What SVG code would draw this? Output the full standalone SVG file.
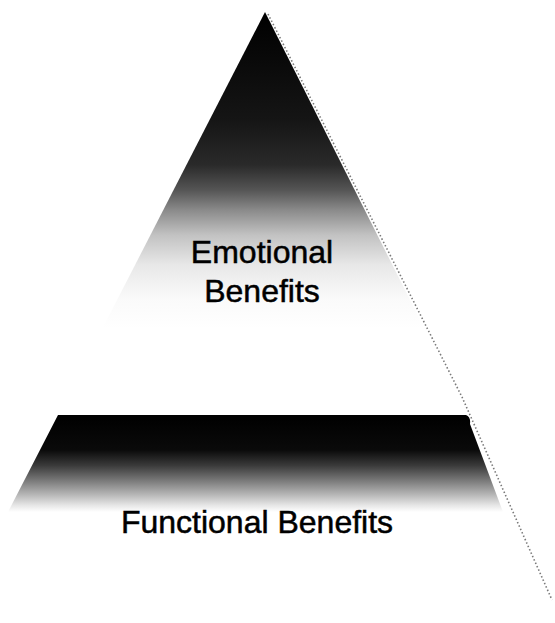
<svg xmlns="http://www.w3.org/2000/svg" width="555" height="623" viewBox="0 0 555 623">
  <style>
    .label { font-family: "Liberation Sans", Arial, sans-serif; font-size: 32px; fill: #000; stroke: #000; stroke-width: 0.5; text-anchor: middle; }
    .edge { fill: none; stroke: #7a7a7a; stroke-width: 1.6; stroke-dasharray: 1.5 2.2; }
  </style>
  <defs>
    <!-- upper tier: dark at the apex, fading out towards the middle -->
    <linearGradient id="tierTop" gradientUnits="userSpaceOnUse" x1="0" y1="12" x2="0" y2="380">
      <stop offset="0" stop-color="#000"/>
      <stop offset="0.293" stop-color="#151515"/>
      <stop offset="0.416" stop-color="#2a2a2a"/>
      <stop offset="0.484" stop-color="#555"/>
      <stop offset="0.538" stop-color="#8a8a8a"/>
      <stop offset="0.606" stop-color="#c2c2c2"/>
      <stop offset="0.688" stop-color="#e8e8e8"/>
      <stop offset="0.78" stop-color="#fafafa"/>
      <stop offset="0.86" stop-color="#fff"/>
    </linearGradient>
    <!-- lower tier: solid band that fades into the label -->
    <linearGradient id="tierBase" gradientUnits="userSpaceOnUse" x1="0" y1="415" x2="0" y2="512">
      <stop offset="0" stop-color="#000"/>
      <stop offset="0.36" stop-color="#0a0a0a"/>
      <stop offset="0.52" stop-color="#3a3a3a"/>
      <stop offset="0.67" stop-color="#777"/>
      <stop offset="0.825" stop-color="#b8b8b8"/>
      <stop offset="0.93" stop-color="#e6e6e6"/>
      <stop offset="1" stop-color="#fff"/>
    </linearGradient>
  </defs>

  <rect width="555" height="623" fill="#fff"/>

  <!-- outer right edge of the pyramid -->
  <g id="pyramid-edge">
    <polyline class="edge" points="268,14 462,397 552,600"/>
  </g>

  <!-- upper tier -->
  <g id="emotional-benefits">
    <polygon points="265,12 58,415 468,415" fill="url(#tierTop)"/>
    <text class="label" x="262" y="263">Emotional</text>
    <text class="label" x="262" y="302">Benefits</text>
  </g>

  <!-- lower tier -->
  <g id="functional-benefits">
    <path d="M58,415 L466,415 Q471,417 470,424 L503,512 L8,512 Z" fill="url(#tierBase)"/>
    <text class="label" x="257" y="533">Functional Benefits</text>
  </g>
</svg>
